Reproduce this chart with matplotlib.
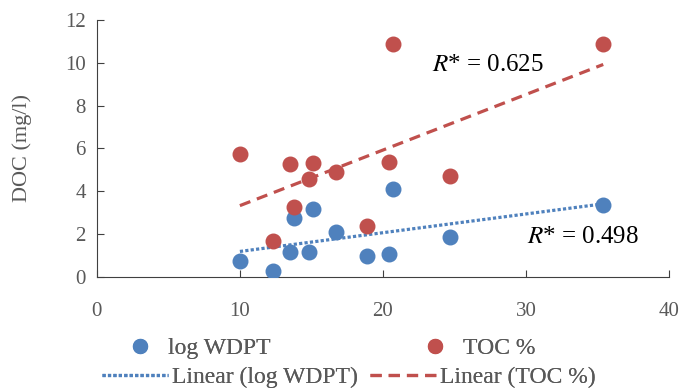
import numpy as np
import matplotlib
matplotlib.use("Agg")
import matplotlib.pyplot as plt
from matplotlib.lines import Line2D

# values
x_vals = [10.0, 12.3, 13.5, 13.8, 14.8, 15.1, 16.7, 18.9, 20.4, 20.7, 24.7, 35.4]
wdpt = [0.75, 0.28, 1.14, 2.74, 1.14, 3.16, 2.10, 0.98, 1.06, 4.11, 1.87, 3.36]
toc = [5.75, 1.67, 5.28, 3.27, 4.56, 5.33, 4.88, 2.38, 5.36, 10.87, 4.70, 10.87]
r_wdpt = "0.498"
r_toc = "0.625"

blue = "#4F81BD"
red = "#C0504D"
grey = "#595959"

plt.rcParams['font.family'] = ['Liberation Serif', 'DejaVu Serif']
plt.rcParams['mathtext.fontset'] = 'stix'

fig = plt.figure(figsize=(6.82, 3.9), dpi=100)
ax = fig.add_axes([0.142, 0.290, 0.839, 0.659])

ax.scatter(x_vals, wdpt, s=110, color=blue, zorder=3)
ax.scatter(x_vals, toc, s=110, color=red, zorder=3)

xs = np.array([min(x_vals), max(x_vals)])
b1 = np.polyfit(x_vals, wdpt, 1)
b2 = np.polyfit(x_vals, toc, 1)
dot = (1, 0.7)
dash = (3.5, 2.2)
ax.plot(xs, np.polyval(b1, xs), color=blue, lw=2.3, dashes=dot, zorder=2)
ax.plot(xs, np.polyval(b2, xs), color=red, lw=2.3, dashes=dash, zorder=2)

ax.text(23.4, 9.9, "$R$* = " + r_toc, fontsize=18, va='center', ha='left')
ax.text(30.1, 1.87, "$R$* = " + r_wdpt, fontsize=18, va='center', ha='left')

ax.set_xlim(0, 40)
ax.set_ylim(0, 12)
ax.set_xticks([0, 10, 20, 30, 40])
ax.set_yticks([0, 2, 4, 6, 8, 10, 12])
ax.tick_params(direction='in', length=5, labelsize=15, labelcolor=grey, color='#404040')
ax.tick_params(axis='x', pad=18)
ax.tick_params(axis='y', pad=8)
for s in ['top', 'right']:
    ax.spines[s].set_visible(False)
for s in ['left', 'bottom']:
    ax.spines[s].set_color('#404040')
ax.set_ylabel("DOC (mg/l)", fontsize=16, color=grey, labelpad=24)

# legend: Excel lays each row out on its own, so place each entry separately
W, H = 682.0, 390.0
entries = [
    (Line2D([], [], ls='none', marker='o', ms=10, color=blue), "log WDPT", 116, 348, 2.0, 0.2),
    (Line2D([], [], ls='none', marker='o', ms=10, color=red), "TOC %", 411, 348, 2.0, 0.2),
    (Line2D([], [], color=blue, lw=2.3, dashes=dot), "Linear (log WDPT)", 102, 377, 2.8, 0.15),
    (Line2D([], [], color=red, lw=2.3, dashes=dash), "Linear (TOC %)", 370, 377, 2.8, 0.15),
]
for h, lab, px, py, hl, tp in entries:
    leg = fig.legend([h], [lab], loc='center left', bbox_to_anchor=(px / W, 1 - py / H),
                     frameon=False, fontsize=17, handlelength=hl, handletextpad=tp,
                     borderpad=0, borderaxespad=0)
    for t in leg.get_texts():
        t.set_color(grey)
    fig.add_artist(leg)

fig.savefig("out.png", dpi=100)
